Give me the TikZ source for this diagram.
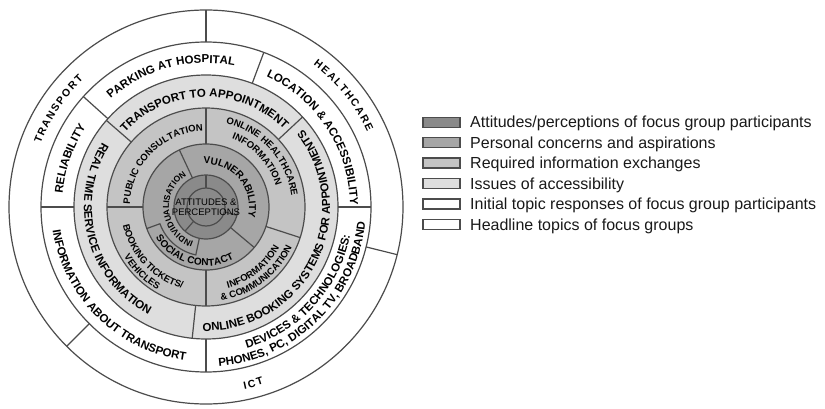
\documentclass[tikz,border=0pt]{standalone}
\usepackage{fontspec}
\setmainfont{Liberation Sans}
\usepackage{tikz}
\usetikzlibrary{decorations.text}
\definecolor{attcol}{gray}{0.54}
\definecolor{percol}{gray}{0.65}
\definecolor{reqcol}{gray}{0.77}
\definecolor{acccol}{gray}{0.87}
\definecolor{linecol}{gray}{0.3}
\newcommand{\hdfont}{\fontsize{10.5}{12}\selectfont\bfseries}
\newcommand{\ringfont}{\fontsize{11.5}{13}\selectfont\bfseries}
\newcommand{\reqfont}{\fontsize{9.5}{11}\selectfont\bfseries}
\newcommand{\perfont}{\fontsize{10}{12}\selectfont\bfseries}
\newcommand{\indfont}{\fontsize{8.5}{10}\selectfont\bfseries}
\newcommand{\tr}{{\kern1.6pt}}

\begin{document}
\begin{tikzpicture}[x=1pt,y=1pt,
    ring/.style={draw=linecol,line width=1.2pt},
    arctext/.style={decorate,decoration={text along path,text align=center,text={#1}}}]
\useasboundingbox (0,0) rectangle (825,408);
\coordinate (c) at (206,201);

\begin{scope}[ring]
    \draw[fill=white] (c) circle (197);
    \draw[fill=white] (c) circle (165);
    \draw[fill=acccol] (c) circle (132);
    \draw[fill=reqcol] (c) circle (99);
    \draw[fill=percol] (c) circle (63);
    \draw[fill=attcol] (c) circle (32);
    \draw (c) circle (19);
    \foreach \a in {90,225,346} \draw (c) ++(\a:165) -- ++(\a:32);
    \foreach \a in {0,69.5,138,180,270} \draw (c) ++(\a:132) -- ++(\a:33);
    \foreach \a in {43,139,264} \draw (c) ++(\a:99) -- ++(\a:33);
    \foreach \a in {-18,90,180,270} \draw (c) ++(\a:63) -- ++(\a:36);
    \foreach \a in {-40,115} \draw (c) ++(\a:32) -- ++(\a:31);
    \foreach \a in {-15,90,229} \draw (c) ++(\a:19) -- ++(\a:13);
    \draw (c) ++(200:63) -- ++(200:-14) arc[start angle=200,end angle=258,radius=49] -- ++(258:-17);
\end{scope}

\begin{scope}[shift={(c)}]
    \path[arctext={|\hdfont|T\tr R\tr A\tr N\tr S\tr P\tr O\tr R\tr T}] (196:177) arc[start angle=196,end angle=97,radius=177];
    \path[arctext={|\hdfont|H\tr E\tr A\tr L\tr T\tr H\tr C\tr A\tr R\tr E}] (89:178) arc[start angle=89,end angle=-11,radius=178];
    \path[arctext={|\hdfont|I\tr C\tr T}] (-110:186) arc[start angle=-110,end angle=-40,radius=186];

    \path[arctext={|\ringfont|PARKING AT HOSPITAL}] (150:144) arc[start angle=150,end angle=60,radius=144];
    \path[arctext={|\ringfont|LOCATION {\&} ACCESSIBILITY}] (78:144) arc[start angle=78,end angle=-12,radius=144];
    \path[arctext={|\ringfont|RELIABILITY}] (200:144) arc[start angle=200,end angle=121,radius=144];
    \path[arctext={|\ringfont|INFORMATION ABOUT TRANSPORT}] (170:155) arc[start angle=170,end angle=281,radius=155];
    \path[arctext={|\ringfont|DEVICES {\&} TECHNOLOGIES:}] (-90:147) arc[start angle=-90,end angle=5,radius=147];
    \path[arctext={|\ringfont|PHONES, PC, DIGITAL TV, BROADBAND}] (-95:160) arc[start angle=-95,end angle=4,radius=160];

    \path[arctext={|\ringfont|TRANSPORT TO APPOINTMENT}] (151:110) arc[start angle=151,end angle=31,radius=110];
    \path[arctext={|\ringfont|REAL TIME SERVICE INFORMATION}] (135:122) arc[start angle=135,end angle=255,radius=122];
    \path[arctext={|\ringfont|ONLINE BOOKING SYSTEMS FOR APPOINTMENTS}] (-100:124) arc[start angle=-100,end angle=47,radius=124];

    \path[arctext={|\reqfont|PUBLIC CONSULTATION}] (195:76) arc[start angle=195,end angle=75,radius=76];
    \path[arctext={|\reqfont|ONLINE HEALTHCARE}] (92:86) arc[start angle=92,end angle=-8,radius=86];
    \path[arctext={|\reqfont|INFORMATION}] (83:73) arc[start angle=83,end angle=3,radius=73];
    \path[arctext={|\reqfont|INFORMATION}] (-97:84) arc[start angle=-97,end angle=-7,radius=84];
    \path[arctext={|\reqfont|{\&} COMMUNICATION}] (-98:95) arc[start angle=-98,end angle=-8,radius=95];
    \path[arctext={|\reqfont|BOOKING TICKETS/}] (178:85) arc[start angle=178,end angle=268,radius=85];
    \path[arctext={|\reqfont|VEHICLES}] (195:96) arc[start angle=195,end angle=256,radius=96];

    \path[arctext={|\perfont|VULNERABILITY}] (100:43) arc[start angle=100,end angle=-20,radius=43];
    \path[arctext={|\perfont|SOCIAL CONTACT}] (200:59) arc[start angle=200,end angle=310,radius=59];
    \path[arctext={|\indfont|INDIVIDUALISATION}] (255:37) arc[start angle=255,end angle=117,radius=37];
\end{scope}

\node[align=center,font=\fontsize{9.5}{10}\selectfont,inner sep=0] (Att) at (c) {ATTITUDES \&\\PERCEPTIONS};

\begin{scope}[every node/.style={draw=linecol,line width=1.3pt,minimum width=37pt,minimum height=10pt,inner sep=0}]
    \node[fill=attcol] (KeyAtt) at (441.5,285.7) {};
    \node[fill=percol] (KeyPer) at (441.5,265.3) {};
    \node[fill=reqcol] (KeyReq) at (441.5,244.9) {};
    \node[fill=acccol] (KeyAcc) at (441.5,224.5) {};
    \node[fill=white] (KeyIni) at (441.5,204.1) {};
    \node[fill=white] (KeyHead) at (441.5,183.7) {};
\end{scope}

\begin{scope}[every node/.style={anchor=base west,inner sep=0,text=black!90,font=\fontsize{16}{18}\selectfont}]
    \node (TxtAtt) at (470,280) {Attitudes/perceptions of focus group participants};
    \node (TxtPer) at (470,259.6) {Personal concerns and aspirations};
    \node (TxtReq) at (470,239.2) {Required information exchanges};
    \node (TxtAcc) at (470,218.8) {Issues of accessibility};
    \node (TxtIni) at (470,198.4) {Initial topic responses of focus group participants};
    \node (TxtHead) at (470,178) {Headline topics of focus groups};
\end{scope}

\end{tikzpicture}
\end{document}
